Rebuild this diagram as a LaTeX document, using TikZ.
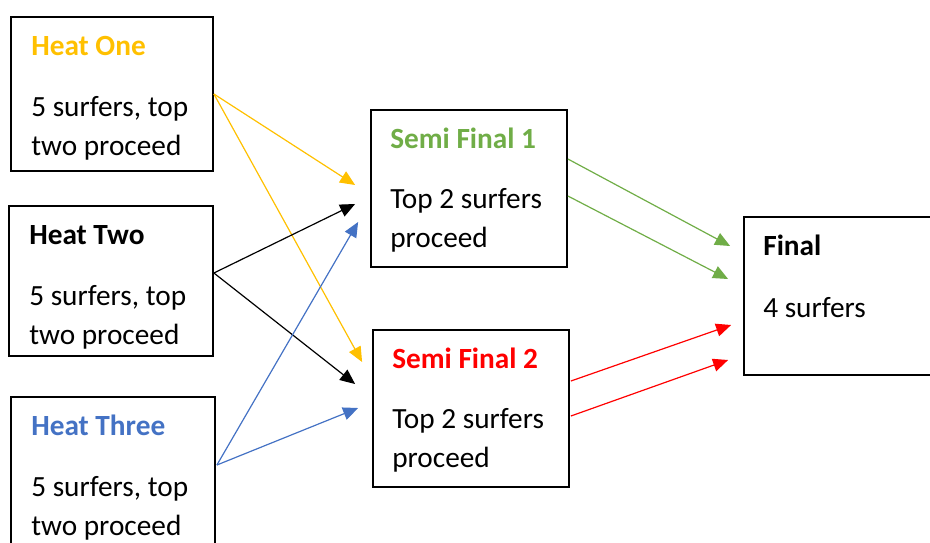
\documentclass[tikz,border=0pt]{standalone}
\usepackage{fontspec}
\setmainfont{Carlito}
\usetikzlibrary{arrows.meta,calc}
\definecolor{cyel}{HTML}{FFC000}
\definecolor{cgrn}{HTML}{70AD47}
\definecolor{cblu}{HTML}{4472C4}
\definecolor{cred}{HTML}{FF0000}
\tikzset{
  box/.style={draw=black,line width=1.8pt,rectangle,inner sep=0pt},
  ttl/.style={anchor=base west,inner sep=0pt,font=\fontsize{29.3}{39}\selectfont\bfseries},
  txt/.style={anchor=base west,inner sep=0pt,font=\fontsize{29.3}{39}\selectfont},
  arr/.style={line width=1.2pt,-{Triangle[length=15pt,width=13pt]}},
}
\begin{document}
\begin{tikzpicture}[x=1pt,y=-1pt]
\useasboundingbox (0,0) rectangle (930,542);
\clip (0,0) rectangle (930,542);
% boxes
\node[box,minimum width=202pt,minimum height=154pt] (h1) at (112,94) {};
\node[box,minimum width=204pt,minimum height=150pt] (h2) at (111,281) {};
\node[box,minimum width=204pt,minimum height=155pt] (h3) at (113,474.5) {};
\node[box,minimum width=196pt,minimum height=157pt] (s1) at (469,188.5) {};
\node[box,minimum width=196pt,minimum height=157pt] (s2) at (471,408.5) {};
\node[box,minimum width=206pt,minimum height=158pt] (f) at (847,296) {};
% texts
\node[ttl,text=cyel] (h1t) at ($(h1.north west)+(21,39)$) {Heat One};
\node[txt] (h1a) at ($(h1.north west)+(21,100)$) {5 surfers, top};
\node[txt] (h1b) at ($(h1.north west)+(21,139)$) {two proceed};
\node[ttl,text=black] (h2t) at ($(h2.north west)+(21,39)$) {Heat Two};
\node[txt] (h2a) at ($(h2.north west)+(21,100)$) {5 surfers, top};
\node[txt] (h2b) at ($(h2.north west)+(21,139)$) {two proceed};
\node[ttl,text=cblu] (h3t) at ($(h3.north west)+(21,39)$) {Heat Three};
\node[txt] (h3a) at ($(h3.north west)+(21,100)$) {5 surfers, top};
\node[txt] (h3b) at ($(h3.north west)+(21,139)$) {two proceed};
\node[ttl,text=cgrn] (s1t) at ($(s1.north west)+(20,39)$) {Semi Final 1};
\node[txt] (s1a) at ($(s1.north west)+(20,99)$) {Top 2 surfers};
\node[txt] (s1b) at ($(s1.north west)+(20,138)$) {proceed};
\node[ttl,text=cred] (s2t) at ($(s2.north west)+(20,39)$) {Semi Final 2};
\node[txt] (s2a) at ($(s2.north west)+(20,99)$) {Top 2 surfers};
\node[txt] (s2b) at ($(s2.north west)+(20,138)$) {proceed};
\node[ttl,text=black] (ft) at ($(f.north west)+(20,39)$) {Final};
\node[txt] (fa) at ($(f.north west)+(20,101)$) {4 surfers};
% arrows from heats
\draw[arr,cyel] (h1.east) -- ($(s1.west)+(-15,-3.5)$);
\draw[arr,cyel] (h1.east) -- ($(s2.west)+(-10,-46.5)$);
\draw[arr,black] ($(h2.east)+(0,-8)$) -- ($(s1.west)+(-15,15.5)$);
\draw[arr,black] ($(h2.east)+(0,-8)$) -- ($(s2.west)+(-17,-24.5)$);
\draw[arr,cblu] ($(h3.east)+(1,-9.5)$) -- ($(s1.west)+(-12,33.5)$);
\draw[arr,cblu] ($(h3.east)+(1,-9.5)$) -- ($(s2.west)+(-14,-0.5)$);
% arrows to final
\draw[arr,cgrn] ($(s1.east)+(0,-29.5)$) -- ($(f.west)+(-13,-50)$);
\draw[arr,cgrn] ($(s1.east)+(0,7.5)$) -- ($(f.west)+(-15,-17)$);
\draw[arr,cred] ($(s2.east)+(1,-27.5)$) -- ($(f.west)+(-12,29)$);
\draw[arr,cred] ($(s2.east)+(1,7.5)$) -- ($(f.west)+(-15,64)$);
\end{tikzpicture}
\end{document}
